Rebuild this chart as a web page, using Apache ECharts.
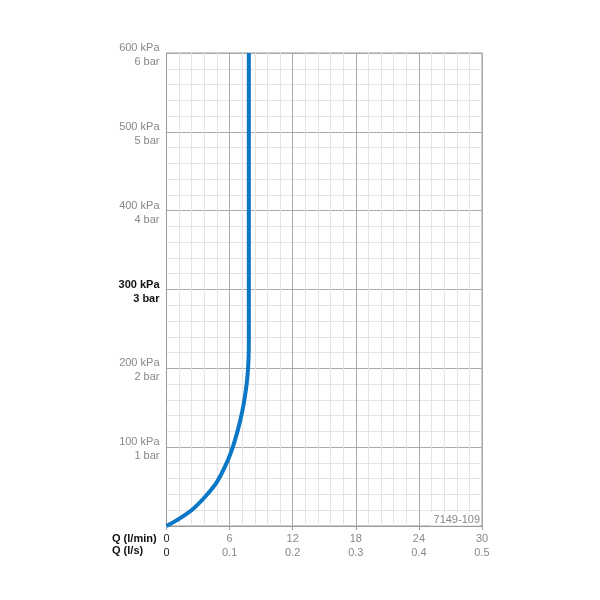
<!DOCTYPE html>
<html><head><meta charset="utf-8">
<script src="https://cdn.jsdelivr.net/npm/echarts@6/dist/echarts.min.js"></script>
<style>html,body{margin:0;padding:0;background:#fff}#c{width:600px;height:600px}</style>
</head><body><div id="c"></div>
<script>
const flowLmin = [0, 1.3, 2.55, 3.8, 4.8, 5.55, 6.2, 6.75, 7.2, 7.5, 7.7, 7.8, 7.83, 7.83];
const pressureKPa = [0, 10, 22, 39, 56, 75, 96, 120, 145, 168, 190, 212, 235, 600];
const xTicksLmin = [0, 6, 12, 18, 24, 30];
const xTicksLs = ['0', '0.1', '0.2', '0.3', '0.4', '0.5'];
const yTicksKPa = [100, 200, 300, 400, 500, 600];
const yTicksBar = ['1', '2', '3', '4', '5', '6'];
const boldY = 300;

const chart = echarts.init(document.getElementById('c'));
const font = '"Liberation Sans", Arial, sans-serif';
chart.setOption({
  animation: false,
  grid: {left: 166.5, right: 118, top: 53, bottom: 74, show: true, borderColor: '#999', borderWidth: 1},
  xAxis: {
    type: 'value', min: 0, max: 30, interval: 6,
    axisLine: {show: true, lineStyle: {color: '#999', width: 1}},
    axisTick: {show: true, length: 4, lineStyle: {color: '#999'}},
    splitLine: {show: true, lineStyle: {color: '#aaa', width: 1}},
    minorTick: {show: false, splitNumber: 5},
    minorSplitLine: {show: true, lineStyle: {color: '#e4e4e4', width: 1}},
    axisLabel: {
      margin: 6, fontFamily: font, fontSize: 11, lineHeight: 14,
      formatter: function (v) {
        const i = xTicksLmin.indexOf(v);
        if (i < 0) return '';
        const s = i === 0 ? 'k' : 'g';
        return '{' + s + '|' + xTicksLmin[i] + '}\n{' + s + '|' + xTicksLs[i] + '}';
      },
      rich: {
        g: {color: '#888', fontFamily: font, fontSize: 11, lineHeight: 14},
        k: {color: '#222', fontFamily: font, fontSize: 11, lineHeight: 14}
      }
    }
  },
  yAxis: {
    type: 'value', min: 0, max: 600, interval: 100,
    axisLine: {show: true, lineStyle: {color: '#999', width: 1}},
    axisTick: {show: false},
    splitLine: {show: true, lineStyle: {color: '#aaa', width: 1}},
    minorTick: {show: false, splitNumber: 5},
    minorSplitLine: {show: true, lineStyle: {color: '#e4e4e4', width: 1}},
    axisLabel: {
      margin: 7, fontFamily: font, fontSize: 11, lineHeight: 14, align: 'right',
      padding: [4, 0, 0, 0],
      formatter: function (v) {
        const i = yTicksKPa.indexOf(v);
        if (i < 0) return '';
        const s = v === boldY ? 'b' : 'g';
        return '{' + s + '|' + yTicksKPa[i] + ' kPa}\n{' + s + '|' + yTicksBar[i] + ' bar}';
      },
      rich: {
        g: {color: '#888', fontFamily: font, fontSize: 11, lineHeight: 14, align: 'right'},
        b: {color: '#111', fontFamily: font, fontSize: 11, lineHeight: 14, fontWeight: 'bold', align: 'right'}
      }
    }
  },
  graphic: [
    {type: 'text', left: 112, top: 533, style: {text: 'Q (l/min)', font: 'bold 11px ' + font, fill: '#111'}},
    {type: 'text', left: 112, top: 545.5, style: {text: 'Q (l/s)', font: 'bold 11px ' + font, fill: '#111'}},
    {type: 'text', right: 120, top: 512.5, z: 100,
     style: {text: '7149-109', font: '11px ' + font, fill: '#888', lineHeight: 12,
             backgroundColor: '#fff', padding: [1, 0, 0, 3]}}
  ],
  series: [{
    type: 'line', smooth: 0.35, symbol: 'none',
    lineStyle: {color: '#0a77c7', width: 4},
    data: flowLmin.map((x, i) => [x, pressureKPa[i]])
  }]
});
</script></body></html>
